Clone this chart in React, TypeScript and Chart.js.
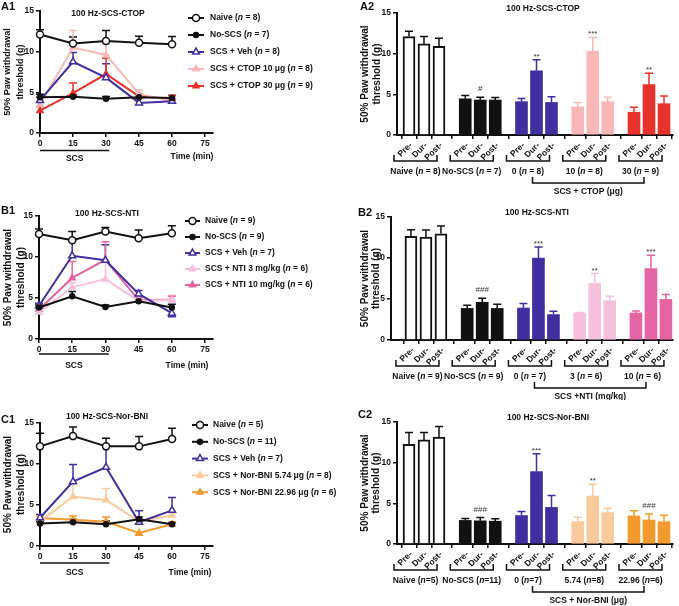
import React, { useEffect, useRef } from 'react';
import { Chart, registerables } from 'chart.js';

Chart.register(...registerables);

const FONT = '"Liberation Sans", Arial, Helvetica, sans-serif';
const INK = '#111111';
const C_VEH = '#3F2F9F';
const C_CTOP10 = '#F9B7B5';
const C_CTOP30 = '#E6322B';
const C_NTI3 = '#F5C0DC';
const C_NTI10 = '#E564A4';
const C_BNI5 = '#F8CA9C';
const C_BNI22 = '#F29A2E';

// ---------- shared categories / ticks ----------
const TIMES = [0, 15, 30, 45, 60];
const TIME_TICKS = [0, 15, 30, 45, 60, 75];
const PHASES = ['Pre-', 'Dur-', 'Post-'];
const Y_TITLE = ['50% Paw withdrawal', 'threshold (g)'];
const SCS_END = 31.5;
const GROUP_STEP = 3.75;

// ---------- A1 (time course, CTOP) ----------
const A1_NAIVE = [12.1, 11.0, 11.3, 11.1, 10.9];
const A1_NAIVE_ERR = [0.6, 0.8, 1.3, 0.8, 0.95];
const A1_NOSCS = [4.4, 4.45, 4.2, 4.4, 4.3];
const A1_NOSCS_ERR = [0.35, 0.25, 0.3, 0.3, 0.3];
const A1_VEH = [4.0, 8.75, 6.8, 3.7, 3.9];
const A1_VEH_ERR = [0.4, 1.15, 1.7, 0.9, 0.3];
const A1_CTOP10 = [3.5, 10.5, 9.6, 4.8, 3.9];
const A1_CTOP10_ERR = [0.4, 2.1, 1.3, 0.5, 0.3];
const A1_CTOP30 = [2.75, 4.9, 7.25, 4.5, 4.2];
const A1_CTOP30_ERR = [0.5, 1.25, 1.95, 0.3, 0.45];

// ---------- B1 (time course, NTI) ----------
const B1_NAIVE = [12.8, 12.05, 13.1, 12.3, 12.9];
const B1_NAIVE_ERR = [0.6, 1.05, 0.5, 1.0, 0.9];
const B1_NOSCS = [3.85, 5.2, 3.9, 4.6, 3.85];
const B1_NOSCS_ERR = [0.3, 0.6, 0.25, 0.3, 0.4];
const B1_VEH = [4.05, 10.15, 9.6, 5.5, 3.15];
const B1_VEH_ERR = [0.3, 1.9, 1.9, 0.4, -0.45];
const B1_NTI3 = [3.25, 6.3, 7.3, 4.65, 4.75];
const B1_NTI3_ERR = [0.2, 0.6, 2.15, 0.3, 0.6];
const B1_NTI10 = [3.6, 7.45, 9.65, 4.75, 4.8];
const B1_NTI10_ERR = [0.2, 2.0, 2.2, 0.3, 0.4];

// ---------- C1 (time course, Nor-BNI) ----------
const C1_NAIVE = [12.15, 13.4, 12.15, 12.15, 13.05];
const C1_NAIVE_ERR = [1.6, 1.1, 1.0, 1.2, 1.3];
const C1_NOSCS = [2.75, 2.9, 2.65, 3.25, 2.65];
const C1_NOSCS_ERR = [0.2, 0.35, 0.4, 0.3, 0.2];
const C1_VEH = [3.45, 7.85, 9.6, 2.9, 4.35];
const C1_VEH_ERR = [0.4, 2.1, 2.55, 1.4, 1.55];
const C1_BNI5 = [3.0, 6.0, 5.6, 3.0, 3.75];
const C1_BNI5_ERR = [-0.4, 1.8, 1.4, 0.4, 0.3];
const C1_BNI22 = [3.4, 3.2, 2.95, 1.6, 2.65];
const C1_BNI22_ERR = [0.3, 0.45, 0.6, -0.3, 0.3];

// ---------- A2 (bars, CTOP) ----------
const A2_NAIVE = [12.1, 11.2, 10.9];
const A2_NAIVE_ERR = [0.65, 0.9, 1.0];
const A2_NOSCS = [4.45, 4.3, 4.3];
const A2_NOSCS_ERR = [0.4, 0.35, 0.3];
const A2_VEH = [4.1, 7.9, 4.0];
const A2_VEH_ERR = [0.4, 1.35, 0.7];
const A2_CTOP10 = [3.45, 10.3, 4.1];
const A2_CTOP10_ERR = [0.55, 1.7, 0.55];
const A2_CTOP30 = [2.8, 6.2, 3.85];
const A2_CTOP30_ERR = [0.6, 1.4, 0.95];
const A2_MARKS = ['', '#', '**', '***', '**'];

// ---------- B2 (bars, NTI) ----------
const B2_NAIVE = [12.65, 12.55, 12.95];
const B2_NAIVE_ERR = [0.8, 0.85, 0.95];
const B2_NOSCS = [3.85, 4.6, 3.85];
const B2_NOSCS_ERR = [0.4, 0.5, 0.5];
const B2_VEH = [3.9, 10.0, 3.1];
const B2_VEH_ERR = [0.55, 1.35, 0.4];
const B2_NTI3 = [3.3, 6.9, 4.8];
const B2_NTI3_ERR = [0.05, 1.2, 0.55];
const B2_NTI10 = [3.3, 8.7, 4.95];
const B2_NTI10_ERR = [0.25, 1.65, 0.6];
const B2_MARKS = ['', '###', '***', '**', '***'];

// ---------- C2 (bars, Nor-BNI) ----------
const C2_NAIVE = [12.25, 12.8, 13.15];
const C2_NAIVE_ERR = [1.45, 0.9, 1.3];
const C2_NOSCS = [2.9, 2.85, 2.8];
const C2_NOSCS_ERR = [0.25, 0.4, 0.3];
const C2_VEH = [3.5, 8.9, 4.5];
const C2_VEH_ERR = [0.5, 2.2, 1.45];
const C2_BNI5 = [2.75, 5.9, 3.85];
const C2_BNI5_ERR = [0.55, 1.45, 0.55];
const C2_BNI22 = [3.45, 2.95, 2.75];
const C2_BNI22_ERR = [0.65, 0.75, 0.8];
const C2_MARKS = ['', '###', '***', '**', '###'];

// ---------- helpers ----------
type Part = [string, boolean];
const nText = (name: string, n: number, eq = ' = '): Part[] => [
  [`${name} (`, false],
  ['n', true],
  [`${eq}${n})`, false],
];

function font(size: number, bold = true, italic = false) {
  return `${italic ? 'italic ' : ''}${bold ? 'bold ' : ''}${size}px ${FONT}`;
}

function drawRich(ctx: CanvasRenderingContext2D, parts: Part[], x: number, y: number, size: number, align: 'left' | 'center') {
  let total = 0;
  const widths = parts.map(([t, it]) => {
    ctx.font = font(size, true, it);
    const w = ctx.measureText(t).width;
    total += w;
    return w;
  });
  let cx = align === 'center' ? x - total / 2 : x;
  ctx.textAlign = 'left';
  ctx.textBaseline = 'middle';
  parts.forEach(([t, it], i) => {
    ctx.font = font(size, true, it);
    ctx.fillText(t, cx, y);
    cx += widths[i];
  });
}

function drawMarker(ctx: CanvasRenderingContext2D, style: string, x: number, y: number, r: number, fill: string, stroke: string) {
  ctx.beginPath();
  if (style === 'circle') {
    ctx.arc(x, y, r, 0, Math.PI * 2);
  } else {
    let rad = 0;
    const step = (Math.PI * 2) / 3;
    ctx.moveTo(x + Math.sin(rad) * r, y - Math.cos(rad) * r);
    rad += step;
    ctx.lineTo(x + Math.sin(rad) * r, y - Math.cos(rad) * r);
    rad += step;
    ctx.lineTo(x + Math.sin(rad) * r, y - Math.cos(rad) * r);
    ctx.closePath();
  }
  ctx.fillStyle = fill;
  ctx.fill();
  ctx.strokeStyle = stroke;
  ctx.lineWidth = 1.5;
  ctx.stroke();
}

function drawErr(ctx: CanvasRenderingContext2D, px: number, py: number, pe: number, color: string, cap: number) {
  ctx.strokeStyle = color;
  ctx.lineWidth = 1.5;
  ctx.beginPath();
  ctx.moveTo(px, py);
  ctx.lineTo(px, pe);
  ctx.moveTo(px - cap / 2, pe);
  ctx.lineTo(px + cap / 2, pe);
  ctx.stroke();
}

function drawYTitle(ctx: CanvasRenderingContext2D, xs: number[], cy: number, size: number) {
  ctx.fillStyle = INK;
  ctx.font = font(size);
  Y_TITLE.forEach((line, i) => {
    ctx.save();
    ctx.translate(xs[i], cy);
    ctx.rotate(-Math.PI / 2);
    ctx.textAlign = 'center';
    ctx.textBaseline = 'middle';
    ctx.fillText(line, 0, 0);
    ctx.restore();
  });
}

function axisOpts(extra: any) {
  return {
    grid: { display: true, drawOnChartArea: false, drawTicks: true, tickLength: 4, color: INK, lineWidth: 1.5 },
    border: { display: true, color: INK, width: 2 },
    ...extra,
  };
}

// ---------- line panels ----------
interface LineSeries {
  label: Part[];
  color: string;
  style: string;
  open: boolean;
  radius: number;
  values: number[];
  errs: number[];
}
interface Area { l: number; t: number; r: number; b: number }
interface LineCfg {
  left: number; top: number; w: number; h: number; area: Area; xMax: number;
  tag: string; tagX: number; tagY: number; title: string; titleX: number; titleY: number;
  yTitleX: number[]; yTitleSize: number;
  legX0: number; legX1: number; legTextX: number; legY0: number; legDy: number;
  scsY: number; scsTextY: number; timeX: number; timeY: number;
  series: LineSeries[];
}

const ser = (label: Part[], color: string, style: string, open: boolean, radius: number, values: number[], errs: number[]): LineSeries =>
  ({ label, color, style, open, radius, values, errs });

const LINE_PANELS: LineCfg[] = [
  {
    left: 0, top: 0, w: 340, h: 200, area: { l: 40, t: 11, r: 213, b: 133 }, xMax: 78.6,
    tag: 'A1', tagX: 1, tagY: 7, title: '100 Hz-SCS-CTOP', titleX: 108, titleY: 14,
    yTitleX: [8, 21], yTitleSize: 9,
    legX0: 188, legX1: 204, legTextX: 210, legY0: 18, legDy: 17,
    scsY: 150.5, scsTextY: 159, timeX: 192, timeY: 157,
    series: [
      ser(nText('Naive', 8), INK, 'circle', true, 3.5, A1_NAIVE, A1_NAIVE_ERR),
      ser(nText('No-SCS', 7), INK, 'circle', false, 2.5, A1_NOSCS, A1_NOSCS_ERR),
      ser(nText('SCS + Veh', 8), C_VEH, 'triangle', true, 4, A1_VEH, A1_VEH_ERR),
      ser(nText('SCS + CTOP 10 μg', 8), C_CTOP10, 'triangle', false, 3.5, A1_CTOP10, A1_CTOP10_ERR),
      ser(nText('SCS + CTOP 30 μg', 9), C_CTOP30, 'triangle', false, 3.5, A1_CTOP30, A1_CTOP30_ERR),
    ],
  },
  {
    left: 0, top: 200, w: 340, h: 200, area: { l: 39, t: 16, r: 213, b: 139 }, xMax: 78.6,
    tag: 'B1', tagX: 1, tagY: 11, title: '100 Hz-SCS-NTI', titleX: 107, titleY: 14,
    yTitleX: [8.5, 21], yTitleSize: 10,
    legX0: 185, legX1: 200, legTextX: 205, legY0: 21, legDy: 16,
    scsY: 154, scsTextY: 166, timeX: 187, timeY: 166,
    series: [
      ser(nText('Naive', 9), INK, 'circle', true, 3.5, B1_NAIVE, B1_NAIVE_ERR),
      ser(nText('No-SCS', 9), INK, 'circle', false, 2.5, B1_NOSCS, B1_NOSCS_ERR),
      ser(nText('SCS + Veh', 7), C_VEH, 'triangle', true, 4, B1_VEH, B1_VEH_ERR),
      ser(nText('SCS + NTI 3 mg/kg', 6), C_NTI3, 'triangle', false, 3.5, B1_NTI3, B1_NTI3_ERR),
      ser(nText('SCS + NTI 10 mg/kg', 6), C_NTI10, 'triangle', false, 3.5, B1_NTI10, B1_NTI10_ERR),
    ],
  },
  {
    left: 0, top: 400, w: 340, h: 206, area: { l: 40, t: 23, r: 213, b: 146 }, xMax: 78.6,
    tag: 'C1', tagX: 1, tagY: 20, title: '100 Hz-SCS-Nor-BNI', titleX: 107, titleY: 17,
    yTitleX: [8, 21], yTitleSize: 10,
    legX0: 192, legX1: 208, legTextX: 213, legY0: 25, legDy: 16.8,
    scsY: 163, scsTextY: 173, timeX: 190, timeY: 173,
    series: [
      ser(nText('Naive', 5), INK, 'circle', true, 3.5, C1_NAIVE, C1_NAIVE_ERR),
      ser(nText('No-SCS', 11), INK, 'circle', false, 2.5, C1_NOSCS, C1_NOSCS_ERR),
      ser(nText('SCS + Veh', 7), C_VEH, 'triangle', true, 4, C1_VEH, C1_VEH_ERR),
      ser(nText('SCS + Nor-BNI 5.74 μg', 8), C_BNI5, 'triangle', false, 3.5, C1_BNI5, C1_BNI5_ERR),
      ser(nText('SCS + Nor-BNI 22.96 μg', 6), C_BNI22, 'triangle', false, 3.5, C1_BNI22, C1_BNI22_ERR),
    ],
  },
];

function LinePanel({ cfg }: { cfg: LineCfg }) {
  const ref = useRef<HTMLCanvasElement>(null);
  useEffect(() => {
    const canvas = ref.current!;
    const a = cfg.area;
    const datasets = cfg.series.map((s) => ({
      type: 'line',
      label: s.label.map((p) => p[0]).join(''),
      data: TIMES.map((t, i) => ({ x: t, y: s.values[i] })),
      borderColor: s.color,
      backgroundColor: s.open ? '#ffffff' : s.color,
      borderWidth: 2,
      pointStyle: s.style,
      pointRadius: s.radius,
      pointBorderWidth: 1.5,
      pointBackgroundColor: s.open ? '#ffffff' : s.color,
      pointBorderColor: s.color,
      tension: 0,
      clip: false,
    }));
    const tickFont = { size: 8.5, weight: 'bold', family: FONT };
    const plugin = {
      id: 'decorLine',
      beforeDatasetsDraw(chart: any) {
        const ctx = chart.ctx as CanvasRenderingContext2D;
        const xs = chart.scales.x, ys = chart.scales.y;
        ctx.save();
        cfg.series.forEach((s) =>
          s.values.forEach((v, i) => {
            const px = xs.getPixelForValue(TIMES[i]);
            drawErr(ctx, px, ys.getPixelForValue(v), ys.getPixelForValue(v + s.errs[i]), s.color, 8);
          })
        );
        ctx.restore();
      },
      afterDraw(chart: any) {
        const ctx = chart.ctx as CanvasRenderingContext2D;
        const xs = chart.scales.x;
        ctx.save();
        ctx.fillStyle = INK;
        ctx.font = font(11);
        ctx.textAlign = 'left';
        ctx.textBaseline = 'middle';
        ctx.fillText(cfg.tag, cfg.tagX, cfg.tagY);
        ctx.font = font(8.5);
        ctx.textAlign = 'center';
        ctx.fillText(cfg.title, cfg.titleX, cfg.titleY);
        drawYTitle(ctx, cfg.yTitleX, (a.t + a.b) / 2, cfg.yTitleSize);
        // legend
        cfg.series.forEach((s, i) => {
          const y = cfg.legY0 + i * cfg.legDy;
          ctx.strokeStyle = s.color;
          ctx.lineWidth = 2;
          ctx.beginPath();
          ctx.moveTo(cfg.legX0, y);
          ctx.lineTo(cfg.legX1, y);
          ctx.stroke();
          drawMarker(ctx, s.style, (cfg.legX0 + cfg.legX1) / 2, y, s.radius, s.open ? '#ffffff' : s.color, s.color);
          ctx.fillStyle = INK;
          drawRich(ctx, s.label, cfg.legTextX, y, 8.5, 'left');
        });
        // SCS bar + labels
        const x0 = xs.getPixelForValue(0), x1 = xs.getPixelForValue(SCS_END);
        ctx.strokeStyle = INK;
        ctx.lineWidth = 1.5;
        ctx.beginPath();
        ctx.moveTo(x0, cfg.scsY);
        ctx.lineTo(x1, cfg.scsY);
        ctx.stroke();
        ctx.fillStyle = INK;
        ctx.font = font(8.5);
        ctx.textAlign = 'center';
        ctx.textBaseline = 'middle';
        ctx.fillText('SCS', (x0 + x1) / 2, cfg.scsTextY);
        ctx.fillText('Time (min)', cfg.timeX, cfg.timeY);
        ctx.restore();
      },
    };
    const chart = new Chart(canvas, {
      type: 'line',
      data: { datasets } as any,
      options: {
        animation: false,
        responsive: false,
        events: [],
        layout: { autoPadding: false, padding: { top: a.t, right: cfg.w - a.r, left: 0, bottom: 0 } },
        plugins: { legend: { display: false }, tooltip: { enabled: false } },
        scales: {
          x: axisOpts({
            type: 'linear',
            min: 0,
            max: cfg.xMax,
            afterFit: (s: any) => { s.height = cfg.h - a.b; },
            afterBuildTicks: (s: any) => { s.ticks = TIME_TICKS.map((v) => ({ value: v })); },
            ticks: { color: INK, font: tickFont, padding: 2, maxRotation: 0, autoSkip: false },
          }),
          y: axisOpts({
            type: 'linear',
            min: 0,
            max: 15,
            afterFit: (s: any) => { s.width = a.l; },
            ticks: { color: INK, font: tickFont, padding: 2, stepSize: 5 },
          }),
        },
      } as any,
      plugins: [plugin],
    });
    return () => chart.destroy();
  }, [cfg]);
  return (
    <canvas
      ref={ref}
      width={cfg.w}
      height={cfg.h}
      style={{ position: 'absolute', left: cfg.left, top: cfg.top, width: cfg.w, height: cfg.h }}
    />
  );
}

// ---------- bar panels ----------
interface BarGroup {
  label: Part[];
  fill: string;
  stroke: string;
  values: number[];
  errs: number[];
  mark: string;
}
interface BarCfg {
  left: number; top: number; w: number; h: number; area: Area; xMin: number; xMax: number;
  tag: string; tagX: number; tagY: number; title: string; titleX: number; titleY: number;
  yTitleX: number[]; yTitleSize: number; bottomLabel: string;
  groups: BarGroup[];
}
const grp = (label: Part[], fill: string, stroke: string, values: number[], errs: number[], mark: string): BarGroup =>
  ({ label, fill, stroke, values, errs, mark });

const BAR_PANELS: BarCfg[] = [
  {
    left: 340, top: 0, w: 339, h: 200, area: { l: 57, t: 13, r: 333, b: 135 }, xMin: -0.8, xMax: 17.6,
    tag: 'A2', tagX: 20, tagY: 7, title: '100 Hz-SCS-CTOP', titleX: 203, titleY: 9,
    yTitleX: [25, 37], yTitleSize: 10, bottomLabel: 'SCS + CTOP (μg)',
    groups: [
      grp(nText('Naive', 8), '#ffffff', INK, A2_NAIVE, A2_NAIVE_ERR, A2_MARKS[0]),
      grp(nText('No-SCS', 7), INK, INK, A2_NOSCS, A2_NOSCS_ERR, A2_MARKS[1]),
      grp(nText('0', 8), C_VEH, C_VEH, A2_VEH, A2_VEH_ERR, A2_MARKS[2]),
      grp(nText('10', 8), C_CTOP10, C_CTOP10, A2_CTOP10, A2_CTOP10_ERR, A2_MARKS[3]),
      grp(nText('30', 9), C_CTOP30, C_CTOP30, A2_CTOP30, A2_CTOP30_ERR, A2_MARKS[4]),
    ],
  },
  {
    left: 340, top: 200, w: 339, h: 200, area: { l: 51, t: 17, r: 333, b: 140 }, xMin: -1.33, xMax: 17.47,
    tag: 'B2', tagX: 18, tagY: 13, title: '100 Hz-SCS-NTI', titleX: 197, titleY: 13,
    yTitleX: [25, 36], yTitleSize: 10, bottomLabel: 'SCS +NTI (mg/kg)',
    groups: [
      grp(nText('Naive', 9), '#ffffff', INK, B2_NAIVE, B2_NAIVE_ERR, B2_MARKS[0]),
      grp(nText('No-SCS', 9), INK, INK, B2_NOSCS, B2_NOSCS_ERR, B2_MARKS[1]),
      grp(nText('0', 7), C_VEH, C_VEH, B2_VEH, B2_VEH_ERR, B2_MARKS[2]),
      grp(nText('3', 6), C_NTI3, C_NTI3, B2_NTI3, B2_NTI3_ERR, B2_MARKS[3]),
      grp(nText('10', 6), C_NTI10, C_NTI10, B2_NTI10, B2_NTI10_ERR, B2_MARKS[4]),
    ],
  },
  {
    left: 340, top: 400, w: 339, h: 206, area: { l: 57, t: 22, r: 333, b: 144 }, xMin: -0.8, xMax: 17.6,
    tag: 'C2', tagX: 18, tagY: 15, title: '100 Hz-SCS-Nor-BNI', titleX: 208, titleY: 18,
    yTitleX: [25, 36], yTitleSize: 10, bottomLabel: 'SCS + Nor-BNI (μg)',
    groups: [
      grp(nText('Naive', 5, '='), '#ffffff', INK, C2_NAIVE, C2_NAIVE_ERR, C2_MARKS[0]),
      grp(nText('No-SCS', 11, '='), INK, INK, C2_NOSCS, C2_NOSCS_ERR, C2_MARKS[1]),
      grp(nText('0', 7, '='), C_VEH, C_VEH, C2_VEH, C2_VEH_ERR, C2_MARKS[2]),
      grp(nText('5.74', 8, '='), C_BNI5, C_BNI5, C2_BNI5, C2_BNI5_ERR, C2_MARKS[3]),
      grp(nText('22.96', 6, '='), C_BNI22, C_BNI22, C2_BNI22, C2_BNI22_ERR, C2_MARKS[4]),
    ],
  },
];

function BarPanel({ cfg }: { cfg: BarCfg }) {
  const ref = useRef<HTMLCanvasElement>(null);
  useEffect(() => {
    const canvas = ref.current!;
    const a = cfg.area;
    const pos = (g: number, i: number) => g * GROUP_STEP + i;
    const allPos: number[] = [];
    cfg.groups.forEach((_, g) => PHASES.forEach((_p, i) => allPos.push(pos(g, i))));
    const datasets = cfg.groups.map((g, gi) => ({
      type: 'bar',
      label: g.label.map((p) => p[0]).join(''),
      data: g.values.map((v, i) => ({ x: pos(gi, i), y: v })),
      backgroundColor: g.fill,
      borderColor: g.stroke,
      borderWidth: g.fill === '#ffffff' ? 2 : 0,
      barThickness: 12,
      grouped: false,
    }));
    const tickFont = { size: 8.5, weight: 'bold', family: FONT };
    const plugin = {
      id: 'decorBar',
      afterDatasetsDraw(chart: any) {
        const ctx = chart.ctx as CanvasRenderingContext2D;
        const xs = chart.scales.x, ys = chart.scales.y;
        ctx.save();
        cfg.groups.forEach((g, gi) => {
          g.values.forEach((v, i) => {
            const px = xs.getPixelForValue(pos(gi, i));
            drawErr(ctx, px, ys.getPixelForValue(v), ys.getPixelForValue(v + g.errs[i]), g.stroke, 8);
          });
          if (g.mark) {
            const px = xs.getPixelForValue(pos(gi, 1));
            const top = ys.getPixelForValue(g.values[1] + g.errs[1]);
            ctx.fillStyle = '#333333';
            ctx.font = font(8, false);
            ctx.textAlign = 'center';
            ctx.textBaseline = 'alphabetic';
            ctx.fillText(g.mark, px, top - (g.mark[0] === '#' ? 6 : 1));
          }
        });
        ctx.restore();
      },
      afterDraw(chart: any) {
        const ctx = chart.ctx as CanvasRenderingContext2D;
        const xs = chart.scales.x;
        const bottom = chart.chartArea.bottom;
        ctx.save();
        ctx.fillStyle = INK;
        ctx.font = font(11);
        ctx.textAlign = 'left';
        ctx.textBaseline = 'middle';
        ctx.fillText(cfg.tag, cfg.tagX, cfg.tagY);
        ctx.font = font(8.5);
        ctx.textAlign = 'center';
        ctx.fillText(cfg.title, cfg.titleX, cfg.titleY);
        drawYTitle(ctx, cfg.yTitleX, (a.t + a.b) / 2, cfg.yTitleSize);
        ctx.strokeStyle = INK;
        ctx.lineWidth = 1.5;
        cfg.groups.forEach((g, gi) => {
          const pxs = PHASES.map((_p, i) => xs.getPixelForValue(pos(gi, i)));
          ctx.fillStyle = INK;
          ctx.font = font(8.5);
          pxs.forEach((px, i) => {
            ctx.save();
            ctx.translate(px + 2, bottom + 9);
            ctx.rotate(-Math.PI / 4);
            ctx.textAlign = 'right';
            ctx.textBaseline = 'middle';
            ctx.fillText(PHASES[i], 0, 0);
            ctx.restore();
          });
          const x0 = pxs[0] - 15, x1 = pxs[2] - 2;
          ctx.beginPath();
          ctx.moveTo(x0, bottom + 20);
          ctx.lineTo(x0, bottom + 26);
          ctx.lineTo(x1, bottom + 26);
          ctx.lineTo(x1, bottom + 20);
          ctx.stroke();
          drawRich(ctx, g.label, (x0 + x1) / 2, bottom + 37, 8.5, 'center');
        });
        const bx0 = xs.getPixelForValue(pos(2, 1)) - 4;
        const bx1 = xs.getPixelForValue(pos(cfg.groups.length - 1, 1)) - 5;
        ctx.beginPath();
        ctx.moveTo(bx0, bottom + 42);
        ctx.lineTo(bx0, bottom + 48);
        ctx.lineTo(bx1, bottom + 48);
        ctx.lineTo(bx1, bottom + 42);
        ctx.stroke();
        ctx.fillStyle = INK;
        ctx.font = font(8.5);
        ctx.textAlign = 'center';
        ctx.textBaseline = 'middle';
        ctx.fillText(cfg.bottomLabel, (bx0 + bx1) / 2, bottom + 57);
        ctx.restore();
      },
    };
    const chart = new Chart(canvas, {
      type: 'bar',
      data: { datasets } as any,
      options: {
        animation: false,
        responsive: false,
        events: [],
        layout: { autoPadding: false, padding: { top: a.t, right: cfg.w - a.r, left: 0, bottom: 0 } },
        plugins: { legend: { display: false }, tooltip: { enabled: false } },
        scales: {
          x: axisOpts({
            type: 'linear',
            offset: false,
            min: cfg.xMin,
            max: cfg.xMax,
            afterFit: (s: any) => { s.height = cfg.h - a.b; },
            afterBuildTicks: (s: any) => { s.ticks = allPos.map((v) => ({ value: v })); },
            ticks: { display: false, autoSkip: false },
          }),
          y: axisOpts({
            type: 'linear',
            min: 0,
            max: 15,
            afterFit: (s: any) => { s.width = a.l; },
            ticks: { color: INK, font: tickFont, padding: 2, stepSize: 5 },
          }),
        },
      } as any,
      plugins: [plugin],
    });
    return () => chart.destroy();
  }, [cfg]);
  return (
    <canvas
      ref={ref}
      width={cfg.w}
      height={cfg.h}
      style={{ position: 'absolute', left: cfg.left, top: cfg.top, width: cfg.w, height: cfg.h }}
    />
  );
}

export default function App() {
  return (
    <div style={{ position: 'absolute', left: 0, top: 0, width: 679, height: 606, background: '#ffffff', overflow: 'hidden' }}>
      {LINE_PANELS.map((p) => <LinePanel key={p.tag} cfg={p} />)}
      {BAR_PANELS.map((p) => <BarPanel key={p.tag} cfg={p} />)}
    </div>
  );
}
